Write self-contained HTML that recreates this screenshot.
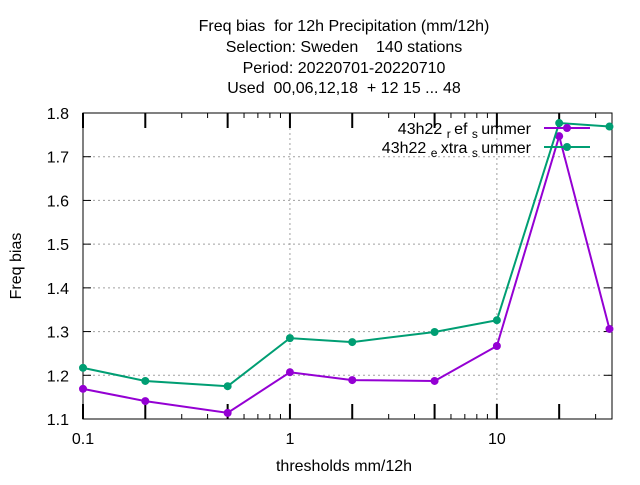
<!DOCTYPE html>
<html><head><meta charset="utf-8"><style>
body{margin:0;background:#fff;}
svg text{font-family:"Liberation Sans",sans-serif;font-size:16px;fill:#000;white-space:pre;}
</style></head><body>
<svg id="chart" width="640" height="480" xmlns="http://www.w3.org/2000/svg">
<rect width="640" height="480" fill="#fff"/>
<g text-anchor="middle">
<text x="344" y="31">Freq bias  for 12h Precipitation (mm/12h)</text>
<text x="344" y="52">Selection: Sweden    140 stations</text>
<text x="344" y="73">Period: 20220701-20220710</text>
<text x="344" y="93">Used  00,06,12,18  + 12 15 ... 48</text>
</g>
<g id="grid"></g>
<g id="axes"></g>
<text x="344" y="471" text-anchor="middle">thresholds mm/12h</text>
<text x="0" y="0" transform="translate(21,266) rotate(-90)" text-anchor="middle">Freq bias</text>
<g id="series"></g>
<g>
<text x="531" y="134" text-anchor="end">43h22 <tspan dy="4" font-size="12">r </tspan><tspan dy="-4">ef </tspan><tspan dy="4" font-size="12">s </tspan><tspan dy="-4">ummer</tspan></text>
<text x="531" y="153" text-anchor="end">43h22 <tspan dy="4" font-size="12">e </tspan><tspan dy="-4">xtra </tspan><tspan dy="4" font-size="12">s </tspan><tspan dy="-4">ummer</tspan></text>
</g>
</svg>
<script>
const thresholds=[0.1,0.2,0.5,1,2,5,10,20,35];
const refSummer=[1.169,1.141,1.114,1.207,1.189,1.187,1.267,1.747,1.306];
const extraSummer=[1.217,1.187,1.175,1.285,1.276,1.299,1.326,1.777,1.769];
const yTicks=[1.1,1.2,1.3,1.4,1.5,1.6,1.7,1.8];
const xTickLabels=[0.1,1,10];
const L=83,R=612,T=113,B=419,XMIN=0.1,XMAX=36,YMIN=1.1,YMAX=1.8;
const NS="http://www.w3.org/2000/svg";
function X(v){return L+(Math.log10(v)-Math.log10(XMIN))/(Math.log10(XMAX)-Math.log10(XMIN))*(R-L);}
function Y(v){return B-(v-YMIN)/(YMAX-YMIN)*(B-T);}
function mk(tag,attrs,parent){const e=document.createElementNS(NS,tag);for(const k in attrs)e.setAttribute(k,attrs[k]);parent.appendChild(e);return e;}
const grid=document.getElementById('grid'),axes=document.getElementById('axes'),ser=document.getElementById('series');
yTicks.forEach(v=>{
 if(v>YMIN&&v<YMAX){const g=mk('line',{x1:L,x2:R,y1:Y(v),y2:Y(v),stroke:'#a0a0a0','stroke-dasharray':'2,3','stroke-width':1},grid);
 }
 const t=mk('line',{x1:L,x2:L+8,y1:Y(v),y2:Y(v),stroke:'#000'},axes);
 
 const t2=mk('line',{x1:R,x2:R-8,y1:Y(v),y2:Y(v),stroke:'#000'},axes);
 
 const lb=mk('text',{x:L-14,y:Y(v)+6,'text-anchor':'end'},axes);lb.textContent=v.toFixed(1);
 
});
xTickLabels.forEach(v=>{
 if(v>XMIN){const g=mk('line',{x1:X(v),x2:X(v),y1:T,y2:B,stroke:'#a0a0a0','stroke-dasharray':'2,3'},grid);
 }
 const lb=mk('text',{x:X(v),y:B+25,'text-anchor':'middle'},axes);lb.textContent=String(v);
 
});
for(let d=0.1;d<XMAX;d*=10){for(let m=1;m<10;m++){const v=d*m;if(v>XMAX+1e-9)break;
 const big=(m===1||m===2||m===5);const len=big?15:5;
 const t=mk('line',{x1:X(v),x2:X(v),y1:B,y2:B-len,stroke:'#000','stroke-width':big?2:1},axes);
 
 const t2=mk('line',{x1:X(v),x2:X(v),y1:T,y2:T+len,stroke:'#000','stroke-width':big?2:1},axes);
 }}
const frame=mk('rect',{x:L,y:T,width:R-L,height:B-T,fill:'none',stroke:'#000'},axes);

function series(vals,color,name){
 const pl=mk('polyline',{points:thresholds.map((x,i)=>X(x)+','+Y(vals[i])).join(' '),fill:'none',stroke:color,'stroke-width':2},ser);
 
 thresholds.forEach((x,i)=>{const c=mk('circle',{cx:X(x),cy:Y(vals[i]),r:4,fill:color},ser);
 });
}
series(refSummer,'#9400d3','ref-summer');
series(extraSummer,'#009e73','extra-summer');
[[128,'#9400d3','legend-swatch-ref'],[147,'#009e73','legend-swatch-extra']].forEach(a=>{
 const l=mk('line',{x1:544,x2:590,y1:a[0],y2:a[0],stroke:a[1],'stroke-width':2},ser);
 
 const c=mk('circle',{cx:567,cy:a[0],r:4,fill:a[1]},ser);
 
});
</script>
</body></html>
